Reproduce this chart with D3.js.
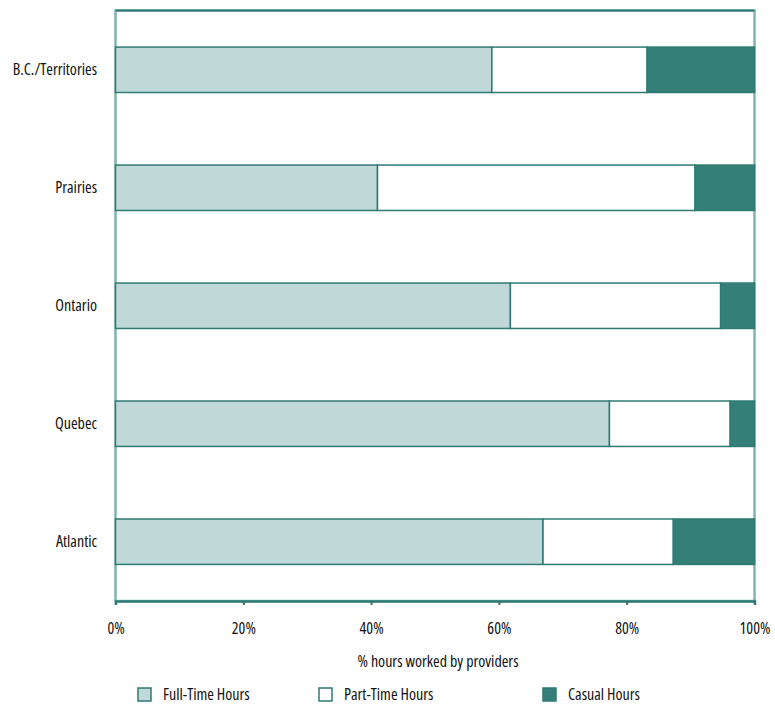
<!DOCTYPE html>
<html><head><meta charset="utf-8">
<script src="https://cdn.jsdelivr.net/npm/d3@7"></script>
<style>
body{margin:0;background:#fff;}
text{font-family:"Open Sans",sans-serif;font-stretch:condensed;fill:#111;}
</style></head>
<body><svg id="chart" width="775" height="706"></svg>
<script>
const categories = ["B.C./Territories","Prairies","Ontario","Quebec","Atlantic"];
const fullTime = [58.9, 41.0, 61.8, 77.3, 66.9];
const partTime = [24.3, 49.7, 32.9, 18.9, 20.4];
const casual   = [16.8, 9.3, 5.3, 3.8, 12.7];
const seriesNames = ["Full-Time Hours","Part-Time Hours","Casual Hours"];
const tickValues = [0,20,40,60,80,100];
const colors = ["#c0d9d8","#ffffff","#347f78"];
const stroke = "#2f7a73";

(function(){
const svg = d3.select("#chart");
const mL = 115.5, mR = 754.5, mT = 10.5, mB = 601;
const x = d3.scaleLinear().domain([0,100]).range([mL,mR]);
const y = d3.scaleBand().domain(categories).range([mT,mB]).paddingInner(0.615).paddingOuter(0.31);

const stackData = categories.map((c,i)=>({cat:c, a:fullTime[i], b:partTime[i], c:casual[i]}));
const stack = d3.stack().keys(["a","b","c"])(stackData);

// frame
svg.append("rect").attr("x",mL).attr("y",mT).attr("width",mR-mL).attr("height",mB-mT)
  .attr("fill","none").attr("stroke","#7fb5b0").attr("stroke-width",2.5);
svg.append("line").attr("x1",mL).attr("x2",mR).attr("y1",mT).attr("y2",mT)
  .attr("stroke",stroke).attr("stroke-width",2);

// bars
stack.forEach((s,k)=>{
  svg.append("g").selectAll("rect").data(s).join("rect")
    .attr("x",d=>x(d[0])).attr("width",d=>x(d[1])-x(d[0]))
    .attr("y",d=>y(d.data.cat)).attr("height",y.bandwidth())
    .attr("fill",colors[k]).attr("stroke",stroke).attr("stroke-width",1.5);
});

// x axis
const ax = svg.append("g").attr("transform",`translate(0,${mB})`)
  .call(d3.axisBottom(x).tickValues(tickValues).tickFormat(d=>d+"%").tickSize(4).tickPadding(18));
ax.select(".domain").attr("stroke",stroke).attr("stroke-width",2.5);
ax.selectAll(".tick line").attr("stroke",stroke).attr("stroke-width",2);
ax.selectAll(".tick text").attr("font-size",16).attr("fill","#111")
  .attr("font-family","'Open Sans',sans-serif").style("font-stretch","condensed");

// y labels
svg.append("g").selectAll("text").data(categories).join("text")
  .attr("x",97).attr("y",d=>y(d)+y.bandwidth()/2).attr("dy","0.35em")
  .attr("text-anchor","end").attr("font-size",16).text(d=>d);

// axis title
svg.append("text").attr("x",438).attr("y",667).attr("text-anchor","middle").attr("font-size",16)
  .text("% hours worked by providers");

// legend
const legX = [138, 319, 543];
const lg = svg.append("g").selectAll("g").data(seriesNames).join("g")
  .attr("transform",(d,i)=>`translate(${legX[i]},688)`);
lg.append("rect").attr("x",0).attr("y",0).attr("width",13).attr("height",13)
  .attr("fill",(d,i)=>colors[i]).attr("stroke",stroke).attr("stroke-width",1.5);
lg.append("text").attr("x",25).attr("y",6.5).attr("dy","0.35em").attr("font-size",16).text(d=>d);
})();
</script></body></html>
